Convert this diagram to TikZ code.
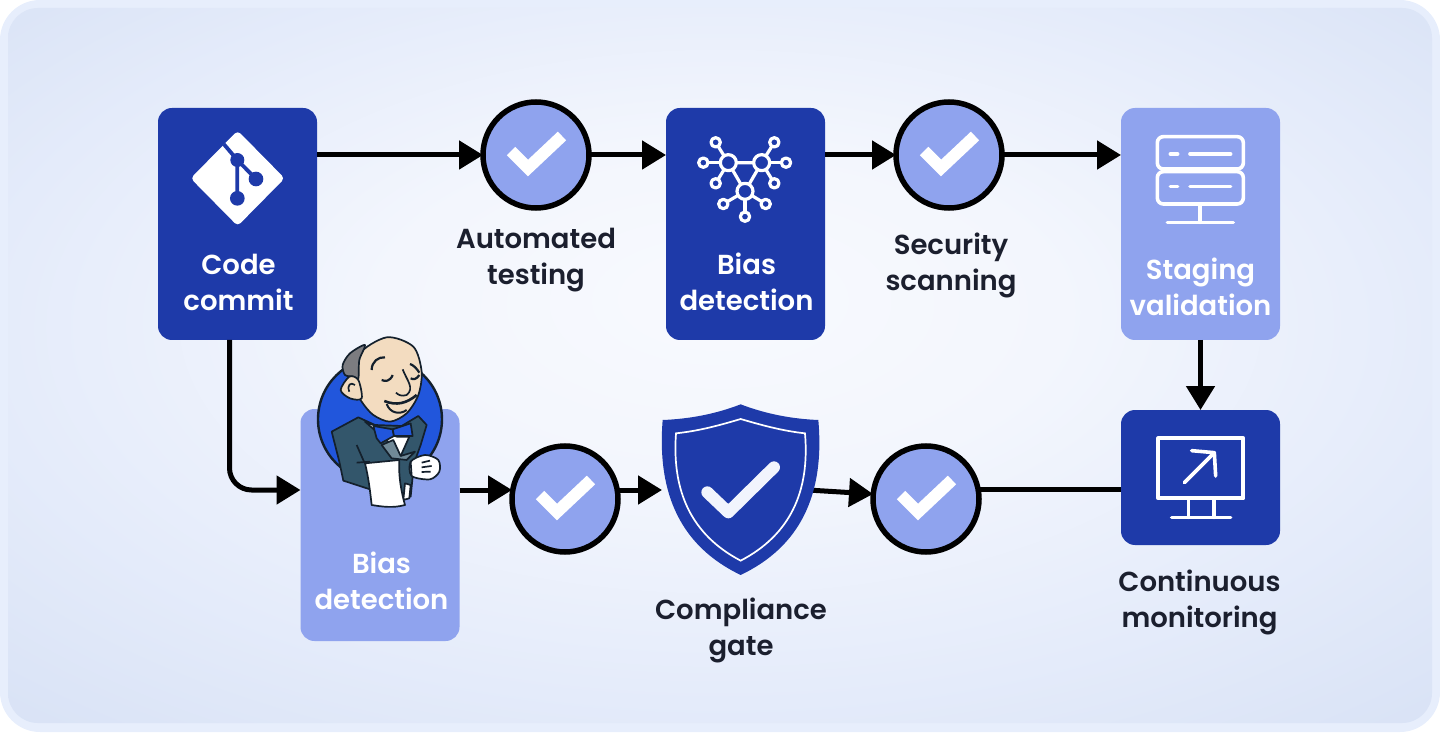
\documentclass[tikz,border=0pt]{standalone}
\usepackage{fontspec}
\setmainfont{Poppins SemiBold}
\usetikzlibrary{arrows.meta,positioning,shapes}
\definecolor{darkblue}{HTML}{1E3AA9}
\definecolor{lightblue}{HTML}{8FA3EE}
\definecolor{inktext}{HTML}{1B1F2E}
\definecolor{rimblue}{HTML}{E7EEFC}
\definecolor{jenkblue}{HTML}{2156DC}
\definecolor{jenkink}{HTML}{14202C}
\definecolor{jenkskin}{HTML}{F3DCC0}
\definecolor{jenkcoat}{HTML}{33566B}
\definecolor{jenkhair}{HTML}{7C7C80}
\definecolor{glowA}{HTML}{F8FAFE}
\definecolor{glowB}{HTML}{F3F6FD}
\definecolor{glowC}{HTML}{E4EBFA}
\definecolor{glowD}{HTML}{D7E1F5}
\pgfdeclareradialshading{panelglow}{\pgfpoint{0bp}{5bp}}{color(0bp)=(glowA);color(12bp)=(glowB);color(26bp)=(glowC);color(38bp)=(glowD);color(50bp)=(glowD)}

\begin{document}
\begin{tikzpicture}[x=1pt,y=1pt,>={Triangle[length=24pt,width=28pt]},line width=5pt]
\tikzstyle{darkbox}=[fill=darkblue,draw=none,rounded corners=14pt,minimum width=159pt,minimum height=232pt,inner sep=0pt,outer sep=0pt]
\tikzstyle{lightbox}=[darkbox,fill=lightblue]
\tikzstyle{shortbox}=[darkbox,minimum height=135pt]
\tikzstyle{chkdot}=[circle,fill=lightblue,draw=black,line width=5.5pt,minimum size=106pt,inner sep=0pt,outer sep=0pt]
\tikzstyle{boxtext}=[text=white,align=center,inner sep=0pt,font=\fontsize{27.5}{36}\selectfont]
\tikzstyle{steptext}=[boxtext,text=inktext]
\tikzstyle{chkmark}=[draw=white,line width=12pt]
\tikzstyle{icon}=[draw=white,line width=3.6pt,line cap=round,line join=round]
\tikzstyle{jenkline}=[draw=jenkink,line width=1.7pt,line join=round]

\useasboundingbox (0,0) rectangle (1440,732);
% panel
\fill[rimblue,rounded corners=40pt] (0,0) rectangle (1440,732);
\shade[shading=panelglow,rounded corners=30pt] (8,9) rectangle (1432,724);

% top row
\node[darkbox]  (commit) at (237.5,508) {};
\node[chkdot]   (chkA)   [right of=commit,node distance=298.5pt,yshift=69pt] {};
\node[darkbox]  (biasA)  [right of=commit,node distance=508pt] {};
\node[chkdot]   (chkB)   [right of=chkA,node distance=413pt] {};
\node[lightbox] (staging) [right of=commit,node distance=963pt] {};
% bottom row
\node[shortbox] (monitor) [below of=staging,node distance=253.5pt] {};
\node[lightbox] (biasB)  at (380,207) {};
\node[chkdot]   (chkC)   at (565,233) {};
\node[inner sep=0pt,outer sep=0pt,minimum width=158pt,minimum height=171pt] (shield) at (741,242) {};
\node[chkdot]   (chkD)   [right of=chkC,node distance=361pt] {};

% labels
\node[boxtext]  (commitlbl)  [below of=commit,node distance=58pt,xshift=1pt] {Code\\commit};
\node[boxtext]  (biasAlbl)   [below of=biasA,node distance=58pt,xshift=1pt] {Bias\\detection};
\node[boxtext]  (staginglbl) [below of=staging,node distance=63pt] {Staging\\validation};
\node[boxtext]  (biasBlbl)   [below of=biasB,node distance=55.5pt,xshift=1.5pt] {Bias\\detection};
\node[steptext] (chkAlbl)    [below of=chkA,node distance=105pt] {Automated\\testing};
\node[steptext] (chkBlbl)    [below of=chkB,node distance=110pt,xshift=2pt] {Security\\scanning};
\node[steptext] (shieldlbl)  [below of=shield,node distance=140pt] {Compliance\\gate};
\node[steptext] (monitorlbl) [below of=monitor,node distance=124.5pt,xshift=-1pt] {Continuous\\monitoring};

% connectors
\draw[->] ([yshift=69pt]commit.east) -- (chkA.west);
\draw[->] (chkA.east) -- ([yshift=69pt]biasA.west);
\draw[->] ([yshift=69pt]biasA.east) -- (chkB.west);
\draw[->] (chkB.east) -- ([yshift=69pt]staging.west);
\draw[->] (staging.south) -- (monitor.north);
\draw[->,rounded corners=22pt] ([xshift=-8pt]commit.south) |- ([yshift=35pt]biasB.west);
\draw[->] ([yshift=35pt]biasB.east) -- ([yshift=9pt]chkC.west);
\draw[->] ([yshift=9pt,xshift=-1pt]chkC.east) -- (shield.west);
\draw[->] ([xshift=-12pt]shield.east) -- ([yshift=5pt]chkD.west);
\draw ([yshift=10pt,xshift=-1pt]chkD.east) -- ([yshift=-11.5pt]monitor.west);

% check marks
\foreach \chk in {chkA,chkB,chkC,chkD}
  \draw[chkmark] ([shift={(-25,4)}]\chk.center) -- ([shift={(-8,-13)}]\chk.center) -- ([shift={(26,19)}]\chk.center);

% git icon
\begin{scope}[shift={(150,632)},x=0.3333pt,y=-0.3333pt]
\fill[white,rounded corners=4pt] (263,92) -- (404,235) -- (263,378) -- (122,235) -- cycle;
\draw[darkblue,line width=3.8pt] (222,133) -- (262,180) -- (318,237) (262,180) -- (262,295);
\fill[darkblue] (262,180) circle (21) (318,237) circle (22) (262,295) circle (22);
\end{scope}

% network icon
\begin{scope}[shift={(680,612)},x=0.3333pt,y=-0.3333pt]
\draw[icon,line width=3.2pt] (145,128) -- (245,128) -- (195,214) -- cycle;
\foreach \hx/\hy/\lx/\ly in {145/128/107/67,145/128/70/128,145/128/107/190,245/128/283/67,245/128/318/128,245/128/283/190,195/214/130/252,195/214/257/252,195/214/195/290}
  \draw[icon,line width=3.2pt] (\hx,\hy) -- (\lx,\ly);
\foreach \hx/\hy in {145/128,245/128,195/214}
  \draw[icon,fill=darkblue,line width=3.2pt] (\hx,\hy) circle (24);
\foreach \lx/\ly in {107/67,70/128,107/190,283/67,318/128,283/190,130/252,257/252,195/290}
  \draw[icon,fill=darkblue,line width=3.2pt] (\lx,\ly) circle (14);
\end{scope}

% server icon
\begin{scope}[shift={(1115,627)},x=0.3333pt,y=-0.3333pt]
\draw[icon,rounded corners=6pt] (127,95) rectangle (385,192);
\draw[icon,rounded corners=6pt] (127,200) rectangle (385,297);
\foreach \ly in {147,244} {
  \draw[icon] (166,\ly) -- (188,\ly);
  \draw[icon] (225,\ly) -- (347,\ly);
}
\draw[icon] (255,297) -- (255,352);
\draw[icon] (157,352) -- (355,352);
\end{scope}

% monitor icon
\begin{scope}[shift={(1115,332)},x=0.3333pt,y=-0.3333pt]
\draw[icon,line width=4pt] (130,115) rectangle (385,295);
\draw[icon] (208,248) -- (298,158);
\draw[icon] (230,152) -- (298,158) -- (302,228);
\draw[icon] (220,295) -- (220,352);
\draw[icon] (297,295) -- (297,352);
\draw[icon] (170,353) -- (347,353);
\end{scope}

% shield
\begin{scope}[shift={(650,337)},x=0.3333pt,y=-0.3333pt]
\fill[darkblue] (272,28) .. controls (350,58) and (430,72) .. (505,75) .. controls (525,300) and (450,455) .. (272,540) .. controls (95,455) and (20,300) .. (38,75) .. controls (115,72) and (195,58) .. cycle;
\draw[white,line width=1.7pt] (272,72) .. controls (340,92) and (400,108) .. (465,115) .. controls (480,290) and (420,420) .. (272,497) .. controls (125,420) and (65,290) .. (78,115) .. controls (145,108) and (205,92) .. cycle;
\draw[white!88!lightblue,line width=12pt,line cap=round,line join=round] (172,292) -- (235,352) -- (372,217);
\end{scope}

% jenkins
\begin{scope}[shift={(290,402)},x=0.3333pt,y=-0.3333pt]
\draw[jenkline,fill=jenkblue,line width=2.4pt] (270,268) circle (186);
\draw[jenkline,fill=jenkcoat] (125,305) -- (205,262) -- (255,285) -- (335,288) -- (385,258) -- (410,285) -- (392,345) -- (372,400) -- (362,500) -- (240,478) -- (160,452) -- (148,395) -- cycle;
\draw[jenkline,fill=white] (225,275) -- (250,285) -- (320,320) -- (358,320) -- (332,378) -- (300,340) -- cycle;
\draw[jenkline,fill=jenkcoat!70!white] (275,345) -- (310,330) -- (332,378) -- (375,365) -- (350,390) -- (305,385) -- cycle;
\draw[jenkline,fill=jenkskin] plot[smooth cycle] coordinates {(205,75) (290,22) (370,50) (395,125) (385,195) (350,250) (300,275) (250,255) (215,215) (195,170)};
\draw[jenkline,fill=jenkhair] plot[smooth cycle] coordinates {(158,105) (180,70) (225,45) (208,90) (205,145) (190,140) (165,135)};
\draw[jenkline,fill=jenkskin] plot[smooth cycle] coordinates {(178,140) (205,150) (215,205) (180,205) (152,180)};
\draw[jenkline] (178,185) .. controls (170,165) and (182,155) .. (195,165);
\draw[jenkline,line width=2.2pt] (245,120) .. controls (245,95) and (265,80) .. (285,82);
\draw[jenkline,line width=2.2pt] (360,102) .. controls (370,105) and (380,115) .. (388,128);
\draw[jenkline,line width=2.2pt] (275,150) .. controls (285,155) and (300,155) .. (308,135);
\draw[jenkline,line width=2.2pt] (362,145) .. controls (370,150) and (380,148) .. (388,135);
\draw[jenkline] (338,118) .. controls (350,150) and (375,175) .. (350,195) .. controls (335,200) and (325,195) .. (318,188);
\draw[jenkline,line width=2.6pt] (283,213) .. controls (320,228) and (350,220) .. (380,195);
\draw[jenkline,line width=2pt] (290,222) .. controls (300,250) and (330,255) .. (350,240);
\draw[jenkline,fill=jenkblue] (250,288) -- (308,298) -- (312,318) -- (272,340) -- (260,325) -- cycle;
\draw[jenkline,fill=jenkblue] (308,298) -- (362,280) -- (368,318) -- (312,318) -- cycle;
\draw[jenkline] (200,345) -- (222,395);
\draw[jenkline] (200,398) -- (240,395);
\draw[jenkline,fill=white] (345,460) -- (362,465) -- (358,505) -- (340,510) -- cycle;
\draw[jenkline,fill=white] (225,400) -- (328,390) .. controls (325,440) and (335,490) .. (345,525) .. controls (310,535) and (275,530) .. (245,525) .. controls (240,480) and (235,440) .. (225,400) -- cycle;
\draw[jenkline,fill=white] plot[smooth cycle] coordinates {(362,395) (405,375) (445,390) (448,425) (420,448) (365,438)};
\draw[jenkline] (362,395) -- (365,438);
\draw[jenkline] (395,398) -- (420,392) (395,412) -- (425,408) (395,426) -- (422,425);
\end{scope}
\end{tikzpicture}
\end{document}
